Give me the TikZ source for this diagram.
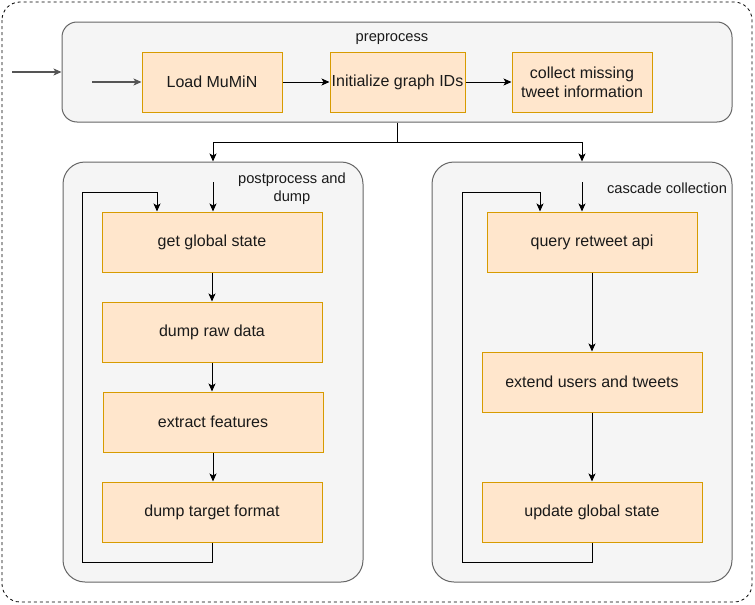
\documentclass[tikz,border=0pt]{standalone}
\usepackage{fontspec}
\setmainfont{Liberation Sans}
\usetikzlibrary{arrows.meta}
\definecolor{boxfill}{HTML}{FFE6CC}
\definecolor{boxline}{HTML}{D79B00}
\definecolor{contfill}{HTML}{F5F5F5}
\definecolor{contline}{HTML}{666666}
\definecolor{garrow}{HTML}{555555}
\definecolor{txt}{HTML}{1A1A1A}
\begin{document}
\begin{tikzpicture}[x=1pt,y=-1pt,
  stepbox/.style={draw=boxline, fill=boxfill, line width=1pt, inner sep=0pt, align=center,
    text=txt, font=\fontsize{16}{19}\selectfont},
  container/.style={draw=contline, fill=contfill, line width=1pt, inner sep=0pt},
  lbl/.style={inner sep=0pt, align=center, text=txt, font=\fontsize{14.67}{18}\selectfont},
  arr/.style={line width=1pt, -{Stealth[length=8pt,width=7pt,inset=2pt]}},
  garr/.style={line width=1.4pt, draw=garrow, -{Stealth[length=8pt,width=7pt,inset=2pt,fill=black]}},
  conn/.style={line width=1pt}]
\useasboundingbox (0,0) rectangle (755,605);
% outer dashed frame
\draw[line width=0.8pt, dash pattern=on 3pt off 3pt, rounded corners=18pt] (2,2) rectangle (752,602);
% containers
\node[container, rounded corners=15pt, minimum width=670pt, minimum height=100pt] (pre) at (397,72) {};
\node[container, rounded corners=22pt, minimum width=300pt, minimum height=420pt] (post) at (213,372) {};
\node[container, rounded corners=22pt, minimum width=300pt, minimum height=420pt] (casc) at (582,372) {};
% labels
\node[lbl] (prelbl) at (392,39) {preprocess};
\node[lbl] (postlbl) at (292,189) {postprocess and\\dump};
\node[lbl] (casclbl) at (667,188) {cascade collection};
% preprocess boxes
\node[stepbox, minimum width=140pt, minimum height=60pt] (load) at (212,82) {\raisebox{-1pt}{Load MuMiN}};
\node[stepbox, minimum width=135pt, minimum height=60pt] (init) at (397.5,82) {\raisebox{-1pt}{Initialize graph IDs}};
\node[stepbox, minimum width=140pt, minimum height=60pt] (coll) at (582,82) {collect missing\\tweet information};
% postprocess boxes
\node[stepbox, minimum width=220pt, minimum height=60pt] (get) at (212,242) {\raisebox{-1pt}{get global state}};
\node[stepbox, minimum width=220pt, minimum height=60pt] (raw) at (212,332) {\raisebox{-1pt}{dump raw data}};
\node[stepbox, minimum width=220pt, minimum height=60pt] (ext) at (213,422) {\raisebox{-1pt}{extract features}};
\node[stepbox, minimum width=220pt, minimum height=60pt] (dtf) at (212,512) {\raisebox{-1pt}{dump target format}};
% cascade boxes
\node[stepbox, minimum width=210pt, minimum height=60pt] (query) at (592,242) {\raisebox{-1pt}{query retweet api}};
\node[stepbox, minimum width=220pt, minimum height=60pt] (extend) at (592,382) {\raisebox{-1pt}{extend users and tweets}};
\node[stepbox, minimum width=220pt, minimum height=60pt] (update) at (592,512) {\raisebox{-1pt}{update global state}};
% coordinates
\coordinate (inA) at (12,72);
\coordinate (inB) at (92,82);
\coordinate (pinL) at (213,182);
\coordinate (pinR) at (582,182);
% preprocess connectors
\draw[garr] (inA) -- (pre.west);
\draw[garr] (inB) -- (load.west);
\draw[arr] (load.east) -- (init.west);
\draw[arr] (init.east) -- (coll.west);
\draw[conn] (pre.south) -- ++(0,20) coordinate (split);
\draw[arr] (split) -| (post.north);
\draw[arr] (split) -| (casc.north);
% postprocess connectors
\draw[arr] (pinL) -- (pinL |- get.north);
\draw[arr] (get.south) -- (raw.north);
\draw[arr] (raw.south) -- (raw.south |- ext.north);
\draw[arr] (ext.south) -- (ext.south |- dtf.north);
\draw[arr] (dtf.south) -- ++(0,20) -| (82,192) -| ([xshift=-55pt]get.north);
% cascade connectors
\draw[arr] (pinR) -- (pinR |- query.north);
\draw[arr] (query.south) -- (extend.north);
\draw[arr] (extend.south) -- (update.north);
\draw[arr] (update.south) -- ++(0,20) -| (462,192) -| ([xshift=-52pt]query.north);
\end{tikzpicture}
\end{document}
